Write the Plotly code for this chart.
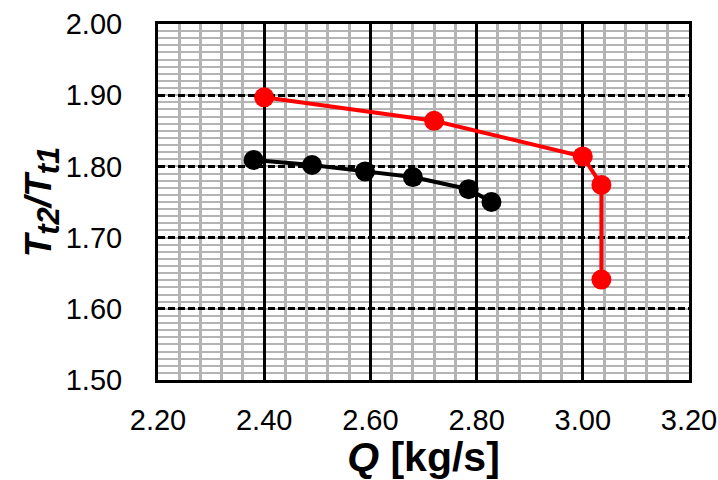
import plotly.graph_objects as go

# Mass flow rate Q [kg/s] and total temperature ratio Tt2/Tt1
q_red = [2.40, 2.72, 3.00, 3.035, 3.035]
t_red = [1.897, 1.864, 1.814, 1.774, 1.641]

q_black = [2.38, 2.49, 2.59, 2.68, 2.785, 2.828]
t_black = [1.809, 1.802, 1.793, 1.785, 1.768, 1.750]

x_ticks = [2.20, 2.40, 2.60, 2.80, 3.00, 3.20]
y_ticks = [1.50, 1.60, 1.70, 1.80, 1.90, 2.00]

fig = go.Figure()
fig.add_trace(go.Scatter(
    x=q_black, y=t_black, mode="lines+markers",
    line=dict(color="black", width=4),
    marker=dict(color="black", size=20),
    showlegend=False,
))
fig.add_trace(go.Scatter(
    x=q_red, y=t_red, mode="lines+markers",
    line=dict(color="#ff0000", width=4),
    marker=dict(color="#ff0000", size=20),
    showlegend=False,
))

font_family = "Liberation Sans, Arial, sans-serif"
sub = '<sub><span style="font-size:31px">{}</span></sub>'

fig.update_layout(
    width=718, height=480,
    margin=dict(l=158, r=29, t=24, b=100),
    plot_bgcolor="white", paper_bgcolor="white",
    font=dict(family=font_family, color="black", size=29),
    xaxis=dict(
        range=[2.20, 3.20], tickvals=x_ticks,
        ticktext=[f"{v:.2f}" for v in x_ticks],
        showgrid=True, gridcolor="black", gridwidth=2.5,
        minor=dict(dtick=0.04, tick0=2.2, showgrid=True,
                   gridcolor="#b4b4b4", gridwidth=3, griddash="solid"),
        showline=True, linecolor="black", linewidth=3, mirror=True,
        ticks="", zeroline=False, automargin=False,
        tickfont=dict(size=29), ticklabelstandoff=12,
        title=dict(text="<b><i>Q</i> [kg/s]</b>", font=dict(size=41), standoff=4),
    ),
    yaxis=dict(
        range=[1.50, 2.00], tickvals=y_ticks,
        ticktext=[f"{v:.2f}" for v in y_ticks],
        showgrid=True, gridcolor="black", gridwidth=3, griddash="7px,3px",
        minor=dict(dtick=0.01, tick0=1.5, showgrid=True,
                   gridcolor="#b4b4b4", gridwidth=2, griddash="solid"),
        showline=True, linecolor="black", linewidth=3, mirror=True,
        ticks="", zeroline=False, automargin=False,
        tickfont=dict(size=29), ticklabelstandoff=27,
        title=dict(text="<b><i>T" + sub.format("t2") + "/T" + sub.format("t1") + "</i></b>",
                   font=dict(size=37), standoff=2),
    ),
)

fig.write_html("out.html")
